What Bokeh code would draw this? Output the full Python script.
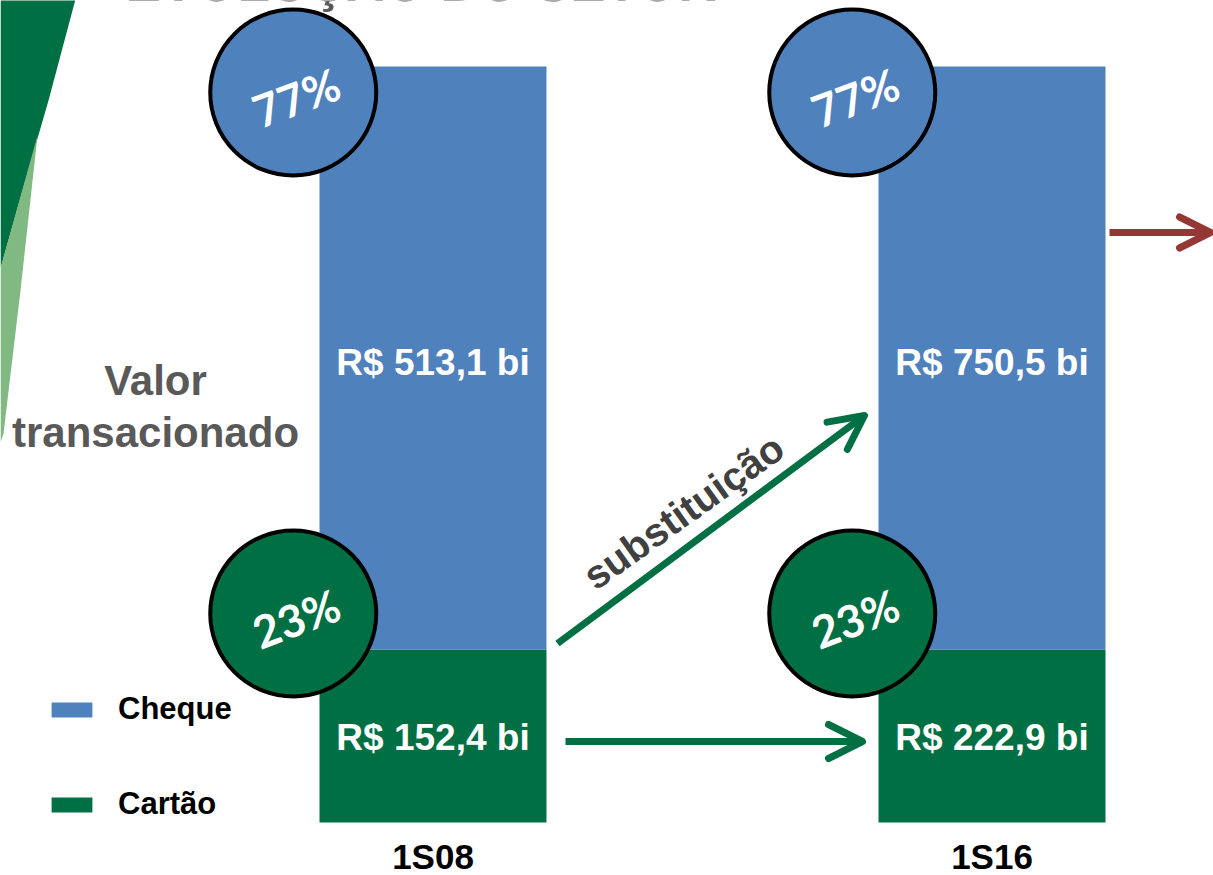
from bokeh.plotting import figure
from bokeh.models import Range1d, ColumnDataSource, Arrow, OpenHead, Legend, LegendItem
from bokeh.core.properties import value
from bokeh.embed import file_html
from bokeh.resources import INLINE

# ---------------- data ----------------
periods = ["1S08", "1S16"]
series_names = ["Cheque", "Cartão"]
cheque_bi = [513.1, 750.5]
cartao_bi = [152.4, 222.9]
y_label = ["Valor", "transacionado"]
title_text = "EVOLUÇÃO DO SETOR"
arrow_text = "substituição"

# ---------------- colours / fonts ----------------
BLUE = "#4f81bd"
GREEN = "#007044"
LIGHT_GREEN = "#80b982"
RED = "#953735"
GREY = "#595959"
DARK = "#404040"
ARIAL = value("Liberation Sans")
PCT_FONT = value("Lato")

# ---------------- layout helpers (pixel -> data) ----------------
W, H = 1213, 875
C0, PITCH = 432.5, 559.0        # first bar centre (px), distance between bars (px)
BASE, PXPCT = 822.0, 7.56       # baseline (px), pixels per percentage point


def X(px):
    return (px - C0) / PITCH


def Y(py):
    return (BASE - py) / PXPCT


idx = list(range(len(periods)))
totals = [a + b for a, b in zip(cheque_bi, cartao_bi)]
sh_cartao = [100 * c / t for c, t in zip(cartao_bi, totals)]
sh_cheque = [100 * q / t for q, t in zip(cheque_bi, totals)]


def fmt(v):
    return ("R$ %.1f bi" % v).replace(".", ",")


src = ColumnDataSource(dict(
    idx=idx,
    period=periods,
    cartao=sh_cartao,
    cheque=sh_cheque,
    cartao_mid=[s / 2 for s in sh_cartao],
    cheque_mid=[c + q / 2 for c, q in zip(sh_cartao, sh_cheque)],
    cartao_lbl=[fmt(v) for v in cartao_bi],
    cheque_lbl=[fmt(v) for v in cheque_bi],
    cartao_pct=["%d%%" % round(s) for s in sh_cartao],
    cheque_pct=["%d%%" % round(s) for s in sh_cheque],
    circ_x=[i - 0.25 for i in idx],
    circ_top=[c + q - 3.44 for c, q in zip(sh_cartao, sh_cheque)],
    circ_bot=[c + 4.75 for c in sh_cartao],
    lbl_y=[-4.5 for _ in idx],
))

p = figure(width=W, height=H, x_range=Range1d(X(0), X(W)), y_range=Range1d(Y(H), Y(0)),
           output_backend="svg", toolbar_location=None, x_axis_type=None, y_axis_type=None,
           min_border=0, outline_line_color=None, background_fill_color="white")

# decorative shapes on the left
p.patch([X(0), X(76), X(48), X(22), X(0)], [Y(-5), Y(-5), Y(100), Y(190), Y(268)], fill_color=GREEN, line_color=None)
p.patch([X(37), X(20), X(3), X(0), X(0)], [Y(135), Y(290), Y(433), Y(442), Y(268)], fill_color=LIGHT_GREEN, line_color=None)

# title (cut at top, as in the reference)
p.text(x=[X(125)], y=[Y(-18)], text=[title_text], text_font=ARIAL, text_font_style="bold",
       text_font_size="53px", text_color=GREY, text_align="left", text_baseline="middle")

# stacked bars
rs = p.vbar_stack(["cartao", "cheque"], x="idx", width=227 / PITCH, source=src,
                  fill_color=[GREEN, BLUE], line_color=None)
r_cartao, r_cheque = rs

# bar value labels
p.text(x="idx", y="cheque_mid", text="cheque_lbl", source=src, text_font=ARIAL, text_font_style="bold",
       text_font_size="37px", text_color="white", text_align="center", text_baseline="middle", y_offset=5)
p.text(x="idx", y="cartao_mid", text="cartao_lbl", source=src, text_font=ARIAL, text_font_style="bold",
       text_font_size="37px", text_color="white", text_align="center", text_baseline="middle", y_offset=2)

# category labels
p.text(x="idx", y="lbl_y", text="period", source=src, text_font=ARIAL, text_font_style="bold",
       text_font_size="35px", text_color="black", text_align="center", text_baseline="middle")

# percentage circles
p.circle(x="circ_x", y="circ_top", radius=83, radius_units="screen", source=src,
         fill_color=BLUE, line_color="black", line_width=4)
p.circle(x="circ_x", y="circ_bot", radius=83, radius_units="screen", source=src,
         fill_color=GREEN, line_color="black", line_width=4)
p.text(x="circ_x", y="circ_top", text="cheque_pct", source=src, text_font=PCT_FONT, text_font_style="bold",
       text_font_size="45px", text_color="white", text_align="center", text_baseline="middle", angle=0.36,
       x_offset=3, y_offset=5)
p.text(x="circ_x", y="circ_bot", text="cartao_pct", source=src, text_font=PCT_FONT, text_font_style="bold",
       text_font_size="45px", text_color="white", text_align="center", text_baseline="middle", angle=0.36,
       x_offset=3, y_offset=5)

# y description
p.text(x=[X(155), X(155)], y=[Y(380), Y(432)], text=y_label, text_font=ARIAL, text_font_style="bold",
       text_font_size="42px", text_color=GREY, text_align="center", text_baseline="middle")

# arrows
p.add_layout(Arrow(x_start=X(557), y_start=Y(643), x_end=X(864), y_end=Y(415), line_color=GREEN, line_width=7,
                   end=OpenHead(size=34, line_color=GREEN, line_width=7, line_cap="round", line_join="round")))
p.add_layout(Arrow(x_start=X(565), y_start=Y(741), x_end=X(862), y_end=Y(741), line_color=GREEN, line_width=7,
                   end=OpenHead(size=34, line_color=GREEN, line_width=7, line_cap="round", line_join="round")))
p.add_layout(Arrow(x_start=X(1109), y_start=Y(232), x_end=X(1210), y_end=Y(232), line_color=RED, line_width=7,
                   end=OpenHead(size=31, line_color=RED, line_width=7, line_cap="round", line_join="round")))
p.text(x=[X(683)], y=[Y(511)], text=[arrow_text], text_font=ARIAL, text_font_style="bold",
       text_font_size="40px", text_color=DARK, text_align="center", text_baseline="middle", angle=0.62)

# legend
legend = Legend(items=[LegendItem(label=series_names[0], renderers=[r_cheque]),
                       LegendItem(label=series_names[1], renderers=[r_cartao])],
                location=(46, 53), orientation="vertical", glyph_width=51, glyph_height=19,
                label_standoff=21, spacing=59, padding=0, margin=0, border_line_color=None,
                background_fill_alpha=0, label_text_font_size="31px", label_text_font_style="bold",
                label_text_font="Liberation Sans", label_text_color="black", label_height=19)
p.add_layout(legend)

open("out.html", "w").write(file_html(p, INLINE))
